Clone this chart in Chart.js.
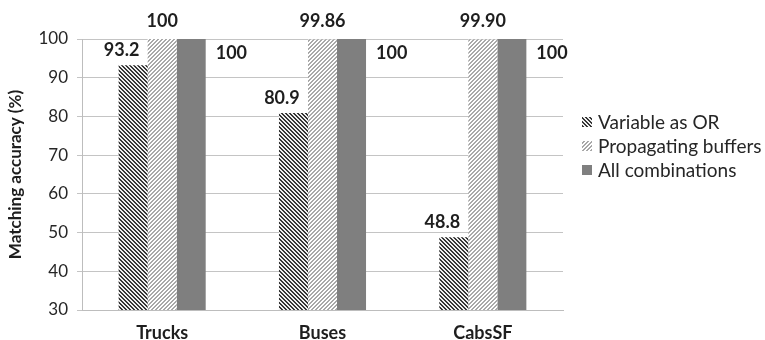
<!DOCTYPE html>
<html>
<head>
<meta charset="utf-8">
<script src="https://cdn.jsdelivr.net/npm/chart.js@4/dist/chart.umd.min.js"></script>
<style>
  html, body { margin: 0; padding: 0; background: #fff; }
  #wrap { width: 765px; height: 340px; position: relative; }
</style>
</head>
<body>
<div id="wrap"><canvas id="c" width="765" height="340"></canvas></div>
<script>
// Matching accuracy per dataset and method
const categories = ['Trucks', 'Buses', 'CabsSF'];
const seriesNames = ['Variable as OR', 'Propagating buffers', 'All combinations'];
const variableAsOr = [93.2, 80.9, 48.8];
const propagatingBuffers = [100, 99.86, 99.90];
const allCombinations = [100, 100, 100];
const yTicks = [30, 40, 50, 60, 70, 80, 90, 100];

const FONT = 'Lato, "Open Sans", sans-serif';

// Small repeating stripe tiles used as bar fills
function stripes(dir, fg, bg) {
  const s = 4;
  const cv = document.createElement('canvas');
  cv.width = s; cv.height = s;
  const g = cv.getContext('2d');
  g.fillStyle = bg; g.fillRect(0, 0, s, s);
  g.fillStyle = fg;
  for (let x = 0; x < s; x++) {
    for (let y = 0; y < s; y++) {
      const k = dir === 'down' ? ((x - y) % s + s) % s : (x + y) % s;
      if (k === 0 || k === 1) g.fillRect(x, y, 1, 1);
    }
  }
  return g.createPattern(cv, 'repeat');
}

const ctx = document.getElementById('c').getContext('2d');
const fills = [
  stripes('down', '#363636', '#efefef'),
  stripes('up', '#a8a8a8', '#ffffff'),
  '#7f7f7f'
];

// Value text for each series
const labelText = [
  v => String(v),
  v => (v === 100 ? '100' : v.toFixed(2)),
  v => String(v)
];

const valueLabels = {
  id: 'valueLabels',
  afterDatasetsDraw(chart) {
    const c = chart.ctx;
    const area = chart.chartArea;
    c.save();
    c.font = 'bold 18px ' + FONT;
    c.fillStyle = '#1e1e1e';
    c.textBaseline = 'alphabetic';
    chart.data.datasets.forEach((ds, di) => {
      const meta = chart.getDatasetMeta(di);
      meta.data.forEach((bar, i) => {
        const txt = labelText[di](ds.data[i]);
        const left = bar.x - bar.width / 2;
        const right = bar.x + bar.width / 2;
        if (di === 0) {
          c.textAlign = 'center';
          c.fillText(txt, left + 3, bar.y - 9);
        } else if (di === 1) {
          c.textAlign = 'center';
          c.fillText(txt, bar.x, area.top - 12);
        } else {
          c.textAlign = 'left';
          c.fillText(txt, right + 10, bar.y + 20);
        }
      });
    });
    c.restore();
  }
};

const sideLegend = {
  id: 'sideLegend',
  afterDraw(chart) {
    const c = chart.ctx;
    c.save();
    c.font = '19px ' + FONT;
    c.textBaseline = 'middle';
    c.textAlign = 'left';
    chart.data.datasets.forEach((ds, di) => {
      const cy = 122 + di * 24;
      c.fillStyle = ds.backgroundColor;
      c.fillRect(582, cy - 5, 10, 10);
      c.fillStyle = '#262626';
      c.fillText(ds.label, 598, cy + 1);
    });
    c.restore();
  }
};

new Chart(ctx, {
  type: 'bar',
  data: {
    labels: categories,
    datasets: [
      { label: seriesNames[0], data: variableAsOr, backgroundColor: fills[0] },
      { label: seriesNames[1], data: propagatingBuffers, backgroundColor: fills[1] },
      { label: seriesNames[2], data: allCombinations, backgroundColor: fills[2] }
    ]
  },
  options: {
    responsive: false,
    animation: false,
    devicePixelRatio: 1,
    layout: { padding: { top: 39, right: 202, left: 0, bottom: 0 } },
    datasets: {
      bar: { categoryPercentage: 0.543, barPercentage: 1, borderWidth: 0 }
    },
    plugins: {
      legend: { display: false },
      tooltip: { enabled: false }
    },
    scales: {
      x: {
        grid: { display: false, drawTicks: false },
        border: { display: true, color: '#bdbdbd', width: 1 },
        ticks: {
          padding: 12,
          color: '#1e1e1e',
          font: { family: FONT, size: 18, weight: 'bold' }
        },
        afterFit(scale) { scale.height = 30; }
      },
      y: {
        min: 30,
        max: 100,
        afterBuildTicks(scale) { scale.ticks = yTicks.map(v => ({ value: v })); },
        grid: { color: '#c4c4c4', lineWidth: 1, tickLength: 5, drawTicks: true },
        border: { display: true, color: '#bdbdbd', width: 1 },
        ticks: {
          padding: 9,
          color: '#262626',
          font: { family: FONT, size: 17 }
        },
        title: {
          display: true,
          text: 'Matching accuracy (%)',
          color: '#1e1e1e',
          padding: { top: 5, bottom: 0 },
          font: { family: FONT, size: 17, weight: 'bold' }
        },
        afterFit(scale) { scale.width = 82; }
      }
    }
  },
  plugins: [valueLabels, sideLegend]
});
</script>
</body>
</html>
